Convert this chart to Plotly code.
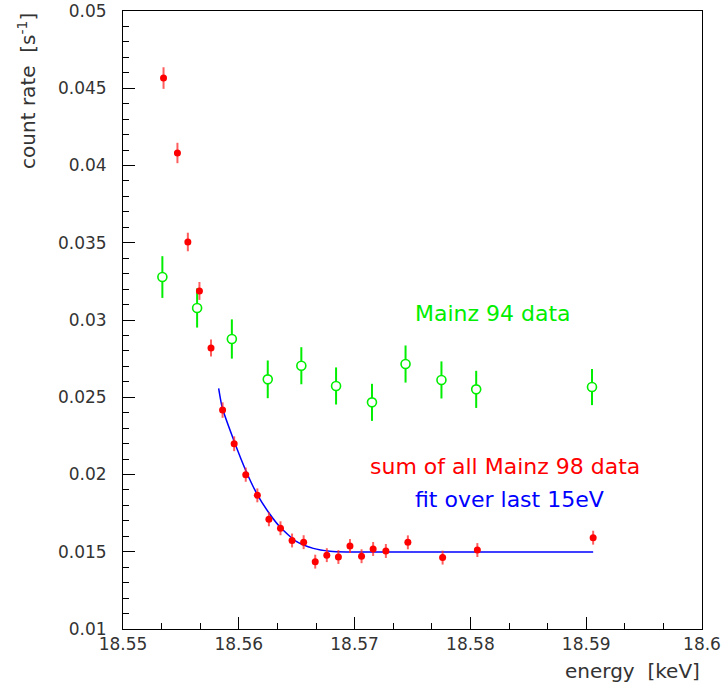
import plotly.graph_objects as go

# Mainz 98 (sum of all data) - red filled points
m98_energy = [18.5535, 18.5547, 18.5556, 18.5566, 18.5576, 18.5586, 18.5596, 18.5606,
              18.5616, 18.5626, 18.5636, 18.5646, 18.5656, 18.5666, 18.5676, 18.5686,
              18.5696, 18.5706, 18.5716, 18.5727, 18.5746, 18.5776, 18.5806, 18.5906]
m98_rate = [0.04566, 0.04081, 0.03505, 0.03188, 0.02819, 0.02417, 0.02199, 0.01999,
            0.01865, 0.01710, 0.01652, 0.01573, 0.01562, 0.01436, 0.01478, 0.01466,
            0.01537, 0.01471, 0.01518, 0.01505, 0.01561, 0.01462, 0.01511, 0.01591]
m98_err = [0.00070, 0.00066, 0.00060, 0.00058, 0.00055, 0.00050, 0.00048, 0.00046,
           0.00045, 0.00045, 0.00045, 0.00045, 0.00045, 0.00045, 0.00045, 0.00045,
           0.00045, 0.00045, 0.00045, 0.00045, 0.00045, 0.00045, 0.00045, 0.00045]

# Mainz 94 data - green open circles
m94_energy = [18.5534, 18.5564, 18.5594, 18.5625, 18.5654, 18.5684, 18.5715, 18.5744,
              18.5775, 18.5805, 18.5905]
m94_rate = [0.03278, 0.03078, 0.02877, 0.02616, 0.02704, 0.02573, 0.02467, 0.02715,
            0.02612, 0.02551, 0.02566]
m94_err = [0.00135, 0.00127, 0.00127, 0.00122, 0.00120, 0.00120, 0.00120, 0.00120,
           0.00120, 0.00120, 0.00117]

# Fit curve
fit_energy = [18.55826, 18.55858, 18.55959, 18.56062, 18.56166, 18.56261, 18.56356,
              18.56500, 18.56643, 18.56788, 18.56932, 18.5750, 18.5906]
fit_rate = [0.02558, 0.02430, 0.02217, 0.02023, 0.01861, 0.01751, 0.01660,
            0.01565, 0.01522, 0.01503, 0.01498, 0.01498, 0.01498]

x_tickvals = [18.55, 18.56, 18.57, 18.58, 18.59, 18.6]
x_ticktext = ["18.55", "18.56", "18.57", "18.58", "18.59", "18.6"]
y_tickvals = [0.01, 0.015, 0.02, 0.025, 0.03, 0.035, 0.04, 0.045, 0.05]
y_ticktext = ["0.01", "0.015", "0.02", "0.025", "0.03", "0.035", "0.04", "0.045", "0.05"]

FONT = "DejaVu Sans ExtraLight, DejaVu Sans, sans-serif"
TXT = "#333333"

fig = go.Figure()

fig.add_trace(go.Scatter(
    x=fit_energy, y=fit_rate, mode="lines",
    line=dict(color="#0000ff", width=1.5, shape="spline", smoothing=0.6),
    hoverinfo="skip", showlegend=False))

fig.add_trace(go.Scatter(
    x=m94_energy, y=m94_rate, mode="markers",
    marker=dict(symbol="circle", size=9, color="white",
                line=dict(color="#00ee00", width=1.6)),
    error_y=dict(type="data", array=m94_err, color="#00ee00", thickness=2, width=0),
    showlegend=False))

fig.add_trace(go.Scatter(
    x=m98_energy, y=m98_rate, mode="markers",
    marker=dict(symbol="circle", size=7, color="#ff0000"),
    error_y=dict(type="data", array=m98_err, color="rgba(255,40,40,0.75)", thickness=2, width=0),
    showlegend=False))

fig.add_annotation(x=18.58191, y=0.03045, xref="x", yref="y", text="Mainz 94 data",
                   showarrow=False, font=dict(family=FONT, size=22, color="#00ee00"))
fig.add_annotation(x=18.58299, y=0.02050, xref="x", yref="y", text="sum of all Mainz 98 data",
                   showarrow=False, font=dict(family=FONT, size=22, color="#ff0000"))
fig.add_annotation(x=18.58336, y=0.01841, xref="x", yref="y", text="fit over last 15eV",
                   showarrow=False, font=dict(family=FONT, size=22, color="#0000ff"))

fig.add_annotation(x=-0.166, y=1.0, xref="paper", yref="paper",
                   text="count rate  [s<sup>-1</sup>]", textangle=-90,
                   xanchor="center", yanchor="top", showarrow=False,
                   font=dict(family=FONT, size=20, color=TXT))
fig.add_annotation(x=1.0, y=-0.068, xref="paper", yref="paper",
                   text="energy  [keV]", xanchor="right", yanchor="middle",
                   showarrow=False, font=dict(family=FONT, size=20, color=TXT))

fig.update_layout(
    width=728, height=690,
    margin=dict(l=123, r=26, t=11, b=61, autoexpand=False),
    paper_bgcolor="white", plot_bgcolor="white",
    showlegend=False,
)

fig.update_xaxes(
    range=[18.55, 18.6], showgrid=False, zeroline=False, automargin=False,
    showline=True, linecolor="black", linewidth=1, mirror=True,
    tickmode="array", tickvals=x_tickvals, ticktext=x_ticktext,
    ticks="inside", ticklen=12, tickcolor="black", tickwidth=1,
    minor=dict(ticks="inside", ticklen=6, dtick=0.01 / 3, tick0=18.55,
               tickcolor="black", tickwidth=1, showgrid=False),
    tickfont=dict(family=FONT, size=17, color=TXT),
)
fig.update_yaxes(
    range=[0.01, 0.05], showgrid=False, zeroline=False, automargin=False,
    showline=True, linecolor="black", linewidth=1, mirror=True,
    tickmode="array", tickvals=y_tickvals, ticktext=y_ticktext,
    ticks="inside", ticklen=12, tickcolor="black", tickwidth=1,
    minor=dict(ticks="inside", ticklen=6, dtick=0.001, tick0=0.01,
               tickcolor="black", tickwidth=1, showgrid=False),
    tickfont=dict(family=FONT, size=17, color=TXT),
    ticklabelstandoff=12,
)

# remove the browser's default 8px body margin so the figure sits at (0, 0)
fig.write_html("out.html",
               config={"displayModeBar": False},
               post_script="document.body.style.margin='0';document.body.style.overflow='hidden';")
